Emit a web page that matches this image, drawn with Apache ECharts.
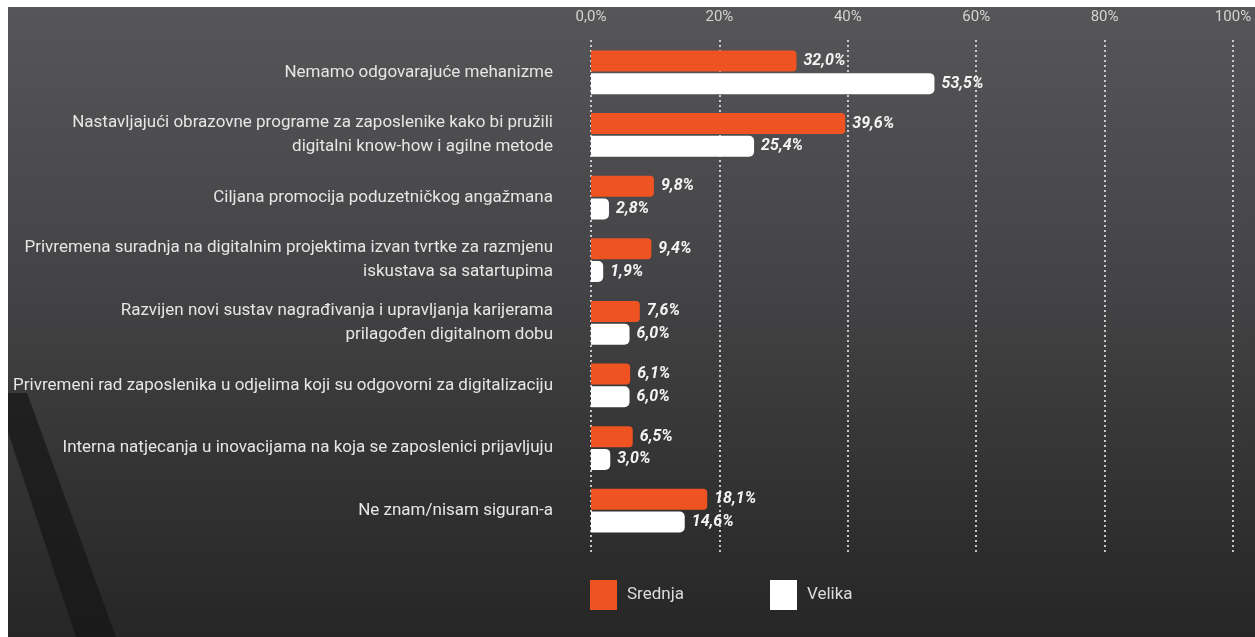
<!DOCTYPE html>
<html>
<head>
<meta charset="utf-8">
<script src="https://cdn.jsdelivr.net/npm/echarts@6/dist/echarts.min.js"></script>
<style>
  html, body { margin: 0; padding: 0; background: #ffffff; }
  #chart { width: 1255px; height: 637px; }
</style>
</head>
<body>
<div id="chart"></div>
<script>
// Answer categories (two-line labels use an explicit break)
const categories = [
  'Nemamo odgovarajuće mehanizme',
  'Nastavljajući obrazovne programe za zaposlenike kako bi pružili\ndigitalni know-how i agilne metode',
  'Ciljana promocija poduzetničkog angažmana',
  'Privremena suradnja na digitalnim projektima izvan tvrtke za razmjenu\niskustava sa satartupima',
  'Razvijen novi sustav nagrađivanja i upravljanja karijerama\nprilagođen digitalnom dobu',
  'Privremeni rad zaposlenika u odjelima koji su odgovorni za digitalizaciju',
  'Interna natjecanja u inovacijama na koja se zaposlenici prijavljuju',
  'Ne znam/nisam siguran-a'
];

// Share of companies (%) by company size
const srednja = [32.0, 39.6, 9.8, 9.4, 7.6, 6.1, 6.5, 18.1];
const velika  = [53.5, 25.4, 2.8, 1.9, 6.0, 6.0, 3.0, 14.6];

// Top axis tick labels
const tickLabels = { 0: '0,0%', 20: '20%', 40: '40%', 60: '60%', 80: '80%', 100: '100%' };

const fmt = v => v.toFixed(1).replace('.', ',') + '%';

const chart = echarts.init(document.getElementById('chart'), null, { renderer: 'canvas' });

const valueLabel = {
  show: true,
  position: 'right',
  distance: 7,
  color: '#f4f4f4',
  fontFamily: 'Roboto, "Open Sans", sans-serif',
  fontSize: 16,
  fontWeight: 'bold',
  fontStyle: 'italic',
  formatter: p => fmt(p.value)
};

chart.setOption({
  animation: false,
  textStyle: { fontFamily: 'Roboto, "Open Sans", sans-serif' },
  graphic: [
    {
      type: 'rect',
      z: -10,
      silent: true,
      shape: { x: 8, y: 7, width: 1247, height: 630 },
      style: {
        fill: new echarts.graphic.LinearGradient(0, 0, 0, 1, [
          { offset: 0, color: '#565557' },
          { offset: 0.45, color: '#434244' },
          { offset: 1, color: '#262626' }
        ])
      }
    },
    {
      type: 'polygon',
      z: -9,
      silent: true,
      shape: { points: [[8, 393], [27, 393], [116, 637], [76, 637], [8, 432]] },
      style: { fill: 'rgba(22,22,22,0.7)' }
    }
  ],
  legend: {
    data: ['Srednja', 'Velika'],
    left: 585,
    top: 575,
    icon: 'rect',
    itemWidth: 27,
    itemHeight: 30,
    itemGap: 86,
    textStyle: { color: '#dcdcdc', fontSize: 17, padding: [0, 0, 0, 5] }
  },
  grid: [
    { left: 591, right: 22, top: 41, height: 501 },
    { left: 591, right: 22, top: 40, height: 513 }
  ],
  xAxis: [
    {
      gridIndex: 0, type: 'value', min: 0, max: 100, interval: 20,
      show: false
    },
    {
      gridIndex: 1, type: 'value', min: 0, max: 100, interval: 20,
      position: 'top',
      axisLine: { show: false },
      axisTick: { show: false },
      axisLabel: {
        margin: 15,
        color: '#d4d4d4',
        fontSize: 15,
        formatter: v => tickLabels[v]
      },
      splitLine: {
        show: true,
        lineStyle: { color: 'rgba(225,225,225,0.85)', width: 2, type: [2, 3] }
      }
    }
  ],
  yAxis: [
    {
      gridIndex: 0,
      type: 'category',
      data: categories,
      inverse: true,
      axisLine: { show: false },
      axisTick: { show: false },
      splitLine: { show: false },
      axisLabel: {
        margin: 38,
        color: '#e6e6e6',
        fontSize: 17,
        lineHeight: 24,
        align: 'right'
      }
    },
    {
      gridIndex: 1, type: 'value', show: false
    }
  ],
  series: [
    {
      name: 'Srednja',
      type: 'bar',
      xAxisIndex: 0, yAxisIndex: 0,
      data: srednja,
      barWidth: 21,
      barGap: '8%',
      itemStyle: { color: '#f05322', borderRadius: [0, 4, 4, 0] },
      label: valueLabel
    },
    {
      name: 'Velika',
      type: 'bar',
      xAxisIndex: 0, yAxisIndex: 0,
      data: velika,
      barWidth: 21,
      itemStyle: { color: '#ffffff', borderRadius: [0, 5, 5, 0] },
      label: valueLabel
    }
  ]
});
</script>
</body>
</html>
